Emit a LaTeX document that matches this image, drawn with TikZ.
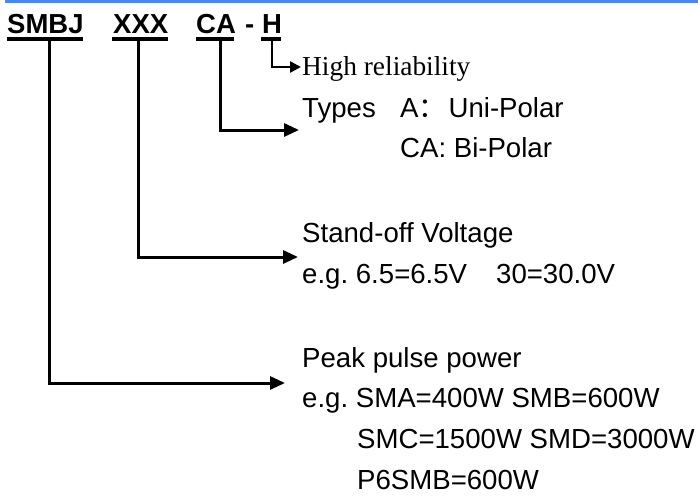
\documentclass[tikz,border=0pt]{standalone}
\usepackage{fontspec}
\setmainfont{Liberation Sans}
\newfontfamily\serifF{Liberation Serif}
\newfontfamily\cjk{Noto Sans CJK SC}
\usetikzlibrary{arrows.meta}
\definecolor{barblue}{RGB}{74,134,240}
\frenchspacing
\begin{document}
\begin{tikzpicture}[x=1pt,y=-1pt,
  txt/.style={anchor=base west, inner sep=0pt, font=\fontsize{27.6}{30}\selectfont},
  serif/.style={anchor=base west, inner sep=0pt, font=\fontsize{27.4}{30}\selectfont\serifF},
  code/.style={anchor=base west, inner sep=0pt, font=\fontsize{27.5}{30}\selectfont\bfseries},
  ul/.style={line width=3.5pt},
  conn/.style={line width=3pt, line join=miter, -{Triangle[length=15pt,width=13pt]}},
  connsmall/.style={line width=2.6pt, line join=miter, -{Triangle[length=11pt,width=11pt]}}]
\useasboundingbox (0,0) rectangle (698,496);
\fill[barblue] (5,0) rectangle (698,3.2);

% code parts
\node[code] (smbj) at (7,33) {SMBJ};
\node[code] (xxx) at (113,33) {XXX};
\node[code] (ca) at (196,33) {CA};
\node[code] (dash) at (245,33) {-};
\node[code] (h) at (262,33) {H};

% underlines
\draw[ul] (7,39) -- (83,39);
\draw[ul] (112,39) -- (168,39);
\draw[ul] (196,39) -- (234,39);
\draw[ul] (261,39) -- (281,39);

\coordinate (uS) at (49,39);
\coordinate (uX) at (138,39);
\coordinate (uC) at (220,39);
\coordinate (uH) at (272,39);

% arrow tips
\coordinate (tH) at (301,67);
\coordinate (tC) at (299,130);
\coordinate (tX) at (298,257);
\coordinate (tS) at (285,383);

% texts
\node[serif] (hr) at (302,75) {High reliability};
\node[txt] (types) at (302,117) {\makebox[98pt][l]{Types}A\makebox[30pt][l]{\cjk ：}Uni-Polar};
\node[txt] (bip) at (400,157) {CA: Bi-Polar};
\node[txt] (sv) at (302,242) {Stand-off Voltage};
\node[txt] (sve) at (302,283) {\makebox[194pt][l]{e.g. 6.5=6.5V}30=30.0V};
\node[txt] (pp) at (302,367) {Peak pulse power};
\node[txt] (pp1) at (302,407) {e.g. SMA=400W SMB=600W};
\node[txt] (pp2) at (357,448) {SMC=1500W SMD=3000W};
\node[txt] (pp3) at (357,489) {P6SMB=600W};

% connectors
\draw[connsmall] (uH) |- (tH);
\draw[conn] (uC) |- (tC);
\draw[conn] (uX) |- (tX);
\draw[conn] (uS) |- (tS);
\end{tikzpicture}
\end{document}
